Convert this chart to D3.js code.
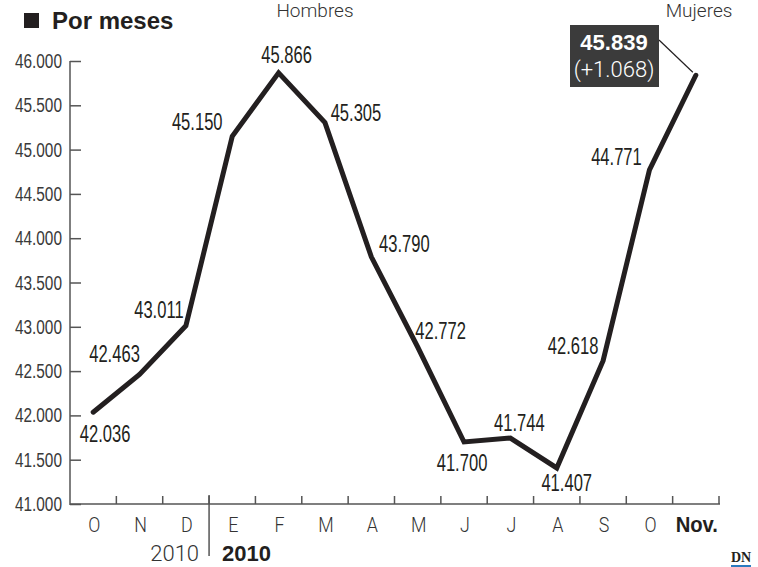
<!DOCTYPE html>
<html><head><meta charset="utf-8">
<script src="https://cdn.jsdelivr.net/npm/d3@7/dist/d3.min.js"></script>
<style>
html,body{margin:0;padding:0;background:#fff;}
svg{display:block;}
.num{font-family:"Liberation Sans",Arial,sans-serif;}
.light{font-family:Roboto,"Liberation Sans",sans-serif;font-weight:300;}
</style></head>
<body>
<script>
const months = ["O","N","D","E","F","M","A","M","J","J","A","S","O","Nov."];
const values = [42036,42463,43011,45150,45866,45305,43790,42772,41700,41744,41407,42618,44771,45839];
const valueLabels = ["42.036","42.463","43.011","45.150","45.866","45.305","43.790","42.772","41.700","41.744","41.407","42.618","44.771","45.839"];
const yTicks = [41000,41500,42000,42500,43000,43500,44000,44500,45000,45500,46000];
const yTickLabels = ["41.000","41.500","42.000","42.500","43.000","43.500","44.000","44.500","45.000","45.500","46.000"];
const lastChange = "(+1.068)";
const title = "Por meses";
const legendLeft = "Hombres";
const legendRight = "Mujeres";
const yearLabels = ["2010","2010"];

// label offsets relative to point (dx, dy to baseline)
const labelOff = [[12,30],[-25,-12],[-27,-8],[-35,-6],[8,-10],[31,-2],[33,-5],[23,-8],[-2,29],[9,-7],[10,23],[-30,-7],[-33,-5],[0,0]];

const W=758,H=567;
const svg=d3.select("body").append("svg").attr("width",W).attr("height",H);
const ink="#231f20";

function condense(sel,f){
  sel.each(function(){
    const w=this.getComputedTextLength();
    this.setAttribute("textLength",w*f);
    this.setAttribute("lengthAdjust","spacingAndGlyphs");
  });
}

const x=d3.scaleBand().domain(d3.range(months.length)).range([70,719]);
const y=d3.scaleLinear().domain([41000,46000]).range([504,61]);

// title
svg.append("rect").attr("x",24).attr("y",13).attr("width",15).attr("height",15).attr("fill",ink);
svg.append("text").attr("x",52).attr("y",29).attr("font-family","'Liberation Sans',Arial,sans-serif")
  .attr("font-weight","bold").attr("font-size",24).attr("fill",ink).text(title);
svg.append("text").attr("class","light").attr("x",315).attr("y",17).attr("text-anchor","middle")
  .attr("font-size",19).attr("fill","#333").text(legendLeft);
svg.append("text").attr("class","light").attr("x",699).attr("y",17).attr("text-anchor","middle")
  .attr("font-size",19).attr("fill","#333").text(legendRight);

// y axis
const yAxis=d3.axisRight(y).tickValues(yTicks).tickSize(11).tickFormat("");
const ya=svg.append("g").attr("transform","translate(70,0)").call(yAxis);
ya.select(".domain").remove();
ya.selectAll("line").attr("stroke","#555").attr("stroke-width",1.5);
svg.append("line").attr("x1",70).attr("x2",70).attr("y1",y(46000)).attr("y2",505).attr("stroke","#555").attr("stroke-width",1.5);
svg.append("g").selectAll("text").data(yTicks).join("text").attr("class","num")
  .attr("x",62).attr("y",d=>y(d)+7).attr("text-anchor","end").attr("font-size",20).attr("fill","#3a3a3a")
  .text((d,i)=>yTickLabels[i]).call(condense,0.77);

// x axis
svg.append("line").attr("x1",70).attr("x2",720).attr("y1",504).attr("y2",504).attr("stroke","#555").attr("stroke-width",1.5);
const bounds=d3.range(1,months.length+1).map(i=>x.range()[0]+i*x.step());
svg.append("g").selectAll("line").data(bounds).join("line")
  .attr("x1",d=>d).attr("x2",d=>d).attr("y1",496).attr("y2",504).attr("stroke","#555").attr("stroke-width",1.5);
// year divider
const divX=x(3);
svg.append("line").attr("x1",divX).attr("x2",divX).attr("y1",495).attr("y2",556).attr("stroke","#555").attr("stroke-width",1.5);
const last=months.length-1;
const mLabels=svg.append("g").selectAll("text").data(months).join("text")
  .attr("x",(d,i)=>x(i)+x.bandwidth()/2+(i===last?1:1)).attr("y",532).attr("text-anchor","middle")
  .attr("font-size",(d,i)=>i===last?22:21).attr("fill",(d,i)=>i===last?ink:"#333")
  .attr("font-family",(d,i)=>i===last?"'Liberation Sans',sans-serif":"Roboto,sans-serif")
  .attr("font-weight",(d,i)=>i===last?"bold":300)
  .text(d=>d);
mLabels.filter((d,i)=>i===last).call(condense,0.92);
mLabels.filter((d,i)=>i<last).call(condense,0.85);
svg.append("text").attr("class","light").attr("x",divX-10).attr("y",561).attr("text-anchor","end")
  .attr("font-size",22).attr("fill","#333").text(yearLabels[0]);
svg.append("text").attr("x",divX+13).attr("y",561).attr("text-anchor","start")
  .attr("font-family","'Liberation Sans',Arial,sans-serif").attr("font-weight","bold")
  .attr("font-size",22).attr("fill",ink).text(yearLabels[1]);

// line
const px=i=>x(i)+x.bandwidth()/2;
const line=d3.line().x((d,i)=>px(i)).y(d=>y(d));
svg.append("path").datum(values).attr("d",line).attr("fill","none").attr("stroke",ink)
  .attr("stroke-width",5).attr("stroke-linejoin","miter").attr("stroke-linecap","round");

// labels
svg.append("g").selectAll("text").data(values.slice(0,-1)).join("text").attr("class","num")
  .attr("x",(d,i)=>px(i)+labelOff[i][0]).attr("y",(d,i)=>y(d)+labelOff[i][1])
  .attr("text-anchor","middle").attr("font-size",23).attr("fill",ink)
  .text((d,i)=>valueLabels[i]).call(condense,0.72);

// last value box
const lx=px(last), ly=y(values[last]);
svg.append("line").attr("x1",659).attr("y1",40).attr("x2",lx-3).attr("y2",ly-3).attr("stroke",ink).attr("stroke-width",1.2);
svg.append("rect").attr("x",570).attr("y",25).attr("width",89).attr("height",62).attr("fill","#3b3b3b");
svg.append("text").attr("x",614).attr("y",50).attr("text-anchor","middle").attr("font-family","'Liberation Sans',Arial,sans-serif")
  .attr("font-weight","bold").attr("font-size",22).attr("fill","#fff").text(valueLabels[last]);
svg.append("text").attr("class","light").attr("x",614).attr("y",77).attr("text-anchor","middle")
  .attr("font-size",22).attr("fill","#fff").text(lastChange);

// DN logo
svg.append("text").attr("x",741).attr("y",562).attr("text-anchor","middle").attr("font-family","'Liberation Serif',serif")
  .attr("font-weight","bold").attr("font-size",14).attr("fill",ink).text("DN");
svg.append("line").attr("x1",731).attr("x2",751).attr("y1",566).attr("y2",566).attr("stroke","#2b7bbf").attr("stroke-width",2);
</script>
</body></html>
